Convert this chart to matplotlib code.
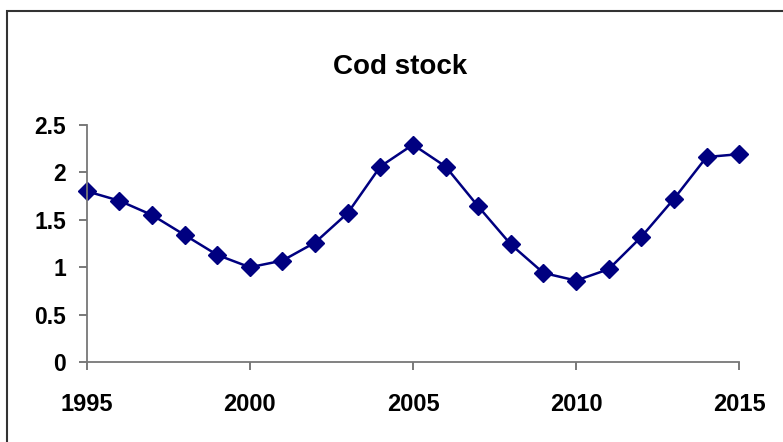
import matplotlib.pyplot as plt
from matplotlib.patches import Rectangle

years = list(range(1995, 2016))
stock = [1.80, 1.70, 1.55, 1.34, 1.13, 1.00, 1.07, 1.26, 1.57, 2.06, 2.29,
         2.06, 1.64, 1.24, 0.94, 0.86, 0.98, 1.32, 1.72, 2.16, 2.19]

x_ticks = [1995, 2000, 2005, 2010, 2015]
y_ticks = [0, 0.5, 1, 1.5, 2, 2.5]
y_labels = ['0', '0.5', '1', '1.5', '2', '2.5']

plt.rcParams['font.family'] = ['Liberation Sans', 'DejaVu Sans']
plt.rcParams['font.weight'] = 'bold'

fig = plt.figure(figsize=(7.83, 4.42), dpi=100)
ax = fig.add_axes([0.1107, 0.1803, 0.9441 - 0.1107, 0.7179 - 0.1803])

ax.plot(years, stock, color='#000080', linewidth=1.8, marker='D',
        markersize=9.5, clip_on=False)

ax.set_xlim(1995, 2015)
ax.set_ylim(0, 2.5)
ax.set_xticks(x_ticks)
ax.set_yticks(y_ticks)
ax.set_yticklabels(y_labels)
ax.tick_params(axis='x', direction='out', length=6, width=1.1, color='#555555',
               labelsize=17, pad=16)
ax.tick_params(axis='y', direction='out', length=6, width=1.1, color='#555555',
               labelsize=16.5, pad=9)
for lbl in ax.get_xticklabels() + ax.get_yticklabels():
    lbl.set_fontweight('bold')

for s in ['top', 'right']:
    ax.spines[s].set_visible(False)
for s in ['left', 'bottom']:
    ax.spines[s].set_color('#777777')
    ax.spines[s].set_linewidth(1.3)

fig.text(0.511, 1 - 67 / 442, 'Cod stock', ha='center', va='center',
         fontsize=20, fontweight='bold')

# chart area border (right and bottom edges fall outside the image)
fig.patches.append(Rectangle((7 / 783, -0.1), 1.0, 1 - 11 / 442 + 0.1,
                             transform=fig.transFigure, fill=False,
                             edgecolor='#333333', linewidth=1.5))

fig.savefig('out.png', dpi=100)
